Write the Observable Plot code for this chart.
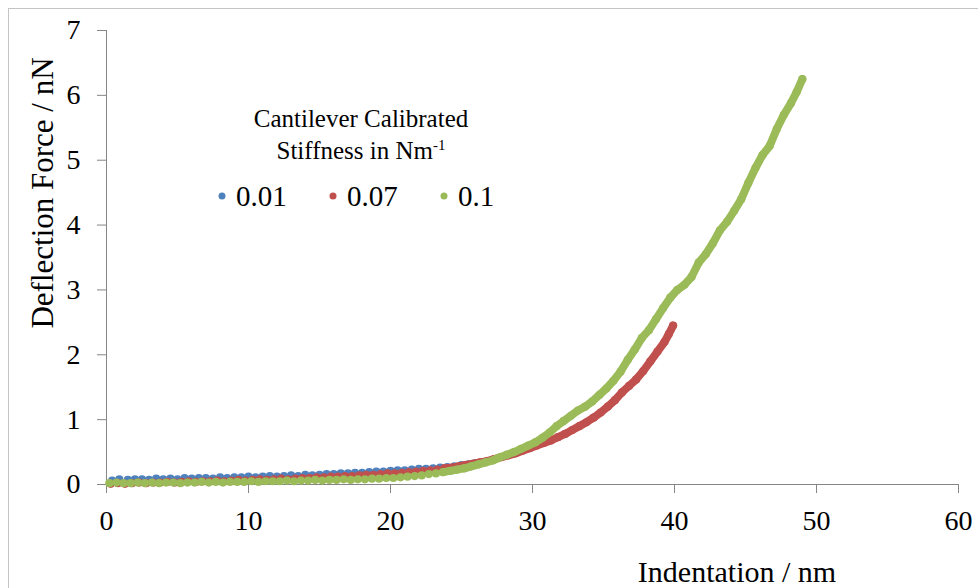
<!DOCTYPE html>
<html><head><meta charset="utf-8">
<script src="https://cdn.jsdelivr.net/npm/d3@7"></script>
<script src="https://cdn.jsdelivr.net/npm/@observablehq/plot@0.6"></script>
<style>
html,body{margin:0;padding:0;background:#fff;overflow:hidden;}
#wrap{position:relative;width:978px;height:588px;font-family:"Liberation Serif","DejaVu Serif",serif;color:#000;overflow:hidden}
#wrap *{font-family:"Liberation Serif","DejaVu Serif",serif}
#chart svg text{font-family:"Liberation Serif","DejaVu Serif",serif !important}
#frame{position:absolute;left:8px;top:8px;width:1100px;height:700px;border:1px solid #c4c4c4;box-sizing:border-box}
#chart{position:absolute;left:0;top:0}
.t{position:absolute;white-space:nowrap;line-height:1;transform:translate(-50%,-50%)}
.li{position:absolute;white-space:nowrap;line-height:1;font-size:29px;transform:translateY(-50%)}
.ld{position:absolute;width:7px;height:7px;border-radius:50%;transform:translate(-50%,-50%)}
</style></head><body>
<div id="wrap">
<div id="frame"></div>
<div id="chart"></div>
<div class="t" style="left:737px;top:572px;font-size:30px">Indentation / nm</div>
<div class="t" style="left:42px;top:193px;font-size:31px;transform:translate(-50%,-50%) rotate(-90deg)">Deflection Force / nN</div>
<div class="t" style="left:361px;top:118px;font-size:25px">Cantilever Calibrated</div>
<div class="t" style="left:361px;top:150px;font-size:25px">Stiffness in Nm<span style="font-size:15px;position:relative;top:-9px">-1</span></div>
<div id="legend"></div>
</div>
<script>
const seriesNames = ["0.01", "0.07", "0.1"];
const seriesColors = ["#4f81bd", "#c0504d", "#9bbb59"];
const xTicks = [0, 10, 20, 30, 40, 50, 60];
const yTicks = [0, 1, 2, 3, 4, 5, 6, 7];

// Stiffness 0.01 N/m : [indentation nm, force nN]
const s001 = [[0.4,0.06],[0.9,0.08],[1.5,0.07],[2.0,0.08],[2.5,0.08],[3.0,0.07],[3.5,0.09],[4.0,0.08],[4.5,0.09],[5.0,0.08],[5.5,0.10],[6.0,0.09],[6.5,0.10],[7.0,0.10],[7.5,0.09],[8.0,0.11],[8.5,0.10],[9.0,0.11],[9.5,0.11],[10.0,0.12],[10.5,0.11],[11.0,0.12],[11.5,0.13],[12.0,0.12],[12.5,0.13],[13.0,0.14],[13.5,0.13],[14.0,0.15],[14.5,0.14],[15.0,0.15],[15.5,0.16],[16.0,0.16],[16.5,0.17],[17.0,0.17],[17.5,0.18],[18.0,0.18],[18.5,0.19],[19.0,0.20],[19.5,0.20],[20.0,0.21],[20.5,0.22],[21.0,0.22],[21.5,0.23],[22.0,0.24],[22.5,0.24],[23.0,0.25],[23.5,0.26],[24.0,0.27],[24.5,0.28],[25.0,0.30],[25.5,0.31],[26.0,0.33]];

// Stiffness 0.07 N/m
const s007 = [[0.3,0.01],[0.8,0.02],[1.3,0.01],[1.8,0.02],[2.3,0.03],[2.8,0.02],[3.3,0.03],[3.8,0.03],[4.3,0.04],[4.8,0.03],[5.3,0.04],[5.8,0.05],[6.3,0.04],[6.8,0.05],[7.3,0.05],[7.8,0.06],[8.3,0.05],[8.8,0.06],[9.3,0.07],[9.8,0.06],[10.3,0.07],[10.8,0.08],[11.3,0.07],[11.8,0.08],[12.3,0.09],[12.8,0.08],[13.3,0.09],[13.8,0.10],[14.3,0.10],[14.8,0.11],[15.3,0.11],[15.8,0.12],[16.3,0.12],[16.8,0.13],[17.3,0.13],[17.8,0.14],[18.3,0.15],[18.8,0.15],[19.3,0.16],[19.8,0.17],[20.3,0.17],[20.8,0.18],[21.3,0.19],[21.8,0.20],[22.3,0.21],[22.8,0.22],[23.3,0.23],[23.8,0.25],[24.3,0.26],[24.8,0.28],[25.3,0.30],[25.8,0.32],[26.3,0.34],[26.8,0.36],[27.3,0.39],[27.8,0.42],[28.3,0.45],[28.8,0.48],[29.3,0.52],[29.8,0.56],[30.3,0.60],[30.8,0.64],[31.3,0.68],[31.8,0.73],[32.3,0.78],[32.8,0.84],[33.3,0.90],[33.8,0.96],[34.3,1.03],[34.8,1.11],[35.3,1.20],[35.8,1.30],[36.3,1.42],[36.8,1.52],[37.3,1.62],[37.8,1.75],[38.3,1.90],[38.8,2.05],[39.3,2.20],[39.6,2.32],[39.9,2.45]];

// Stiffness 0.1 N/m
const s01 = [[0.2,0.02],[0.7,0.03],[1.2,0.02],[1.7,0.02],[2.2,0.03],[2.7,0.02],[3.2,0.03],[3.7,0.02],[4.2,0.03],[4.7,0.03],[5.2,0.02],[5.7,0.03],[6.2,0.03],[6.7,0.04],[7.2,0.03],[7.7,0.04],[8.2,0.03],[8.7,0.04],[9.2,0.04],[9.7,0.04],[10.2,0.05],[10.7,0.04],[11.2,0.05],[11.7,0.05],[12.2,0.05],[12.7,0.06],[13.2,0.05],[13.7,0.06],[14.2,0.06],[14.7,0.07],[15.2,0.06],[15.7,0.07],[16.2,0.07],[16.7,0.08],[17.2,0.07],[17.7,0.08],[18.2,0.08],[18.7,0.09],[19.2,0.09],[19.7,0.10],[20.2,0.10],[20.7,0.11],[21.2,0.12],[21.7,0.13],[22.2,0.14],[22.7,0.16],[23.2,0.17],[23.7,0.19],[24.2,0.21],[24.7,0.23],[25.2,0.25],[25.7,0.28],[26.2,0.31],[26.7,0.34],[27.2,0.37],[27.7,0.42],[28.2,0.46],[28.7,0.50],[29.2,0.55],[29.7,0.60],[30.2,0.65],[30.7,0.72],[31.2,0.80],[31.7,0.90],[32.2,0.98],[32.7,1.06],[33.2,1.14],[33.7,1.20],[34.2,1.28],[34.7,1.38],[35.2,1.48],[35.7,1.60],[36.2,1.74],[36.7,1.92],[37.2,2.08],[37.7,2.26],[38.2,2.38],[38.7,2.55],[39.2,2.72],[39.7,2.88],[40.2,3.00],[40.7,3.08],[41.2,3.20],[41.7,3.42],[42.2,3.55],[42.7,3.72],[43.2,3.92],[43.7,4.05],[44.2,4.22],[44.7,4.40],[45.2,4.65],[45.7,4.88],[46.2,5.08],[46.7,5.22],[47.2,5.48],[47.7,5.70],[48.2,5.88],[48.6,6.05],[49.0,6.25]];

const allSeries = [s001, s007, s01];
const axisColor = "#868686";

const seriesMarks = allSeries.flatMap((s, i) => {
  const marks = [];
  if (i > 0) {
    marks.push(Plot.line(s.filter(d => d[0] >= 23.5), {
      x: d => d[0], y: d => d[1], stroke: seriesColors[i], strokeWidth: 8,
      strokeLinecap: "round", strokeLinejoin: "round"
    }));
  }
  marks.push(Plot.dot(s, {x: d => d[0], y: d => d[1], r: 4.1, fill: seriesColors[i], stroke: "none"}));
  return marks;
});

const chart = Plot.plot({
  width: 978, height: 588,
  marginLeft: 106, marginRight: 20, marginTop: 30, marginBottom: 104,
  style: {fontFamily: "'Liberation Serif', serif", fontSize: "28px", background: "transparent", overflow: "visible", color: "#000"},
  x: {domain: [0, 60]},
  y: {domain: [0, 7]},
  marks: [
    Plot.axisY({ticks: yTicks, tickSize: 9, tickPadding: 17, stroke: axisColor, fill: "#000", label: null, tickFormat: d => String(d)}),
    Plot.axisX({ticks: xTicks, tickSize: 9, tickPadding: 17, stroke: axisColor, fill: "#000", label: null, tickFormat: d => String(d)}),
    Plot.ruleX([0], {stroke: axisColor}),
    Plot.ruleY([0], {stroke: axisColor}),
    ...seriesMarks
  ]
});
document.getElementById("chart").appendChild(chart);

// legend
const legend = document.getElementById("legend");
const legendDotX = [222, 333, 444];
seriesNames.forEach((name, i) => {
  const dot = document.createElement("div");
  dot.className = "ld";
  dot.style.left = legendDotX[i] + "px";
  dot.style.top = "196px";
  dot.style.background = seriesColors[i];
  legend.appendChild(dot);
  const t = document.createElement("div");
  t.className = "li";
  t.style.left = (legendDotX[i] + 14) + "px";
  t.style.top = "196px";
  t.textContent = name;
  legend.appendChild(t);
});
</script>
</body></html>
